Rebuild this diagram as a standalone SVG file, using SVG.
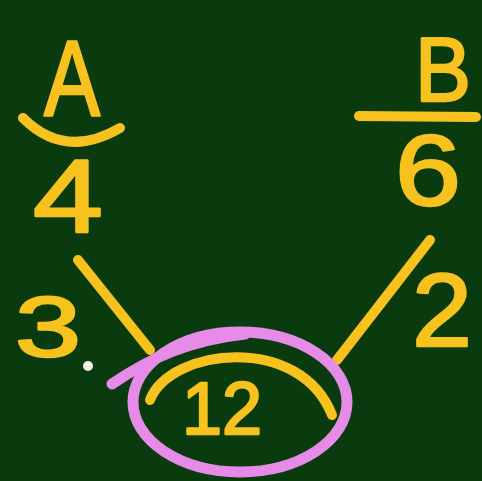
<svg xmlns="http://www.w3.org/2000/svg" width="482" height="481" viewBox="0 0 482 481">
  <style>
    .chalk { fill: #f8c21e; stroke: #f8c21e; stroke-width: 2.5; stroke-linejoin: round; font-family: "Liberation Sans", "DejaVu Sans", sans-serif; text-anchor: middle; }
    .line { fill: none; stroke: #f8c21e; stroke-width: 10; stroke-linecap: round; }
    .pink { fill: none; stroke: #e68be8; stroke-width: 11; stroke-linecap: round; }
  </style>
  <rect x="0" y="0" width="482" height="481" fill="#093b0f"/>
  <g id="connectors">
    <line class="line" x1="78" y1="260" x2="150" y2="350"/>
    <line class="line" x1="430" y1="240" x2="337" y2="360"/>
  </g>
  <g id="node-a4">
    <text class="chalk" x="72" y="116" font-size="108" textLength="56" lengthAdjust="spacingAndGlyphs">A</text>
    <path class="line" d="M23,118 Q65,160 120,128"/>
    <text class="chalk" x="68" y="232" font-size="104" textLength="70" lengthAdjust="spacingAndGlyphs">4</text>
  </g>
  <g id="node-b6">
    <text class="chalk" x="443" y="101" font-size="90" textLength="56" lengthAdjust="spacingAndGlyphs">B</text>
    <line class="line" x1="359" y1="116" x2="476" y2="117"/>
    <text class="chalk" x="428" y="205" font-size="100" textLength="66" lengthAdjust="spacingAndGlyphs">6</text>
  </g>
  <g id="label-3">
    <text class="chalk" x="48" y="356" font-size="86" textLength="66" lengthAdjust="spacingAndGlyphs">3</text>
    <circle cx="88" cy="366" r="5" fill="#f4f4ea"/>
  </g>
  <g id="label-2">
    <text class="chalk" x="442" y="346" font-size="104" textLength="60" lengthAdjust="spacingAndGlyphs">2</text>
  </g>
  <g id="node-12">
    <ellipse class="pink" cx="240" cy="402" rx="107" ry="70"/>
    <path class="pink" d="M112,384 C150,358 190,340 245,334"/>
    <path class="line" d="M150,400 C170,348 300,333 332,415"/>
    <text class="chalk" x="222" y="434" font-size="74" textLength="80" lengthAdjust="spacingAndGlyphs">12</text>
  </g>
</svg>
